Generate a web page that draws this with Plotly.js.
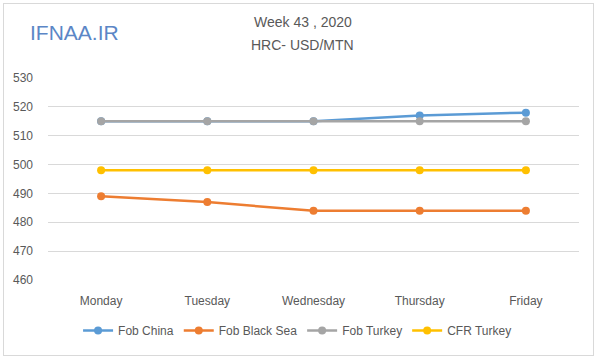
<!DOCTYPE html>
<html>
<head>
<meta charset="utf-8">
<script src="https://cdn.plot.ly/plotly-3.0.1.min.js"></script>
<style>
html,body{margin:0;padding:0;background:#fff;}
#wrap{position:relative;width:600px;height:360px;}
#chart{width:600px;height:360px;}
#frame{position:absolute;left:3px;top:3px;width:589px;height:351px;border:1px solid #d9d9d9;pointer-events:none;}
</style>
</head>
<body>
<div id="wrap"><div id="chart"></div><div id="frame"></div></div>
<script>
var days = ["Monday","Tuesday","Wednesday","Thursday","Friday"];
var fobChina = [515, 515, 515, 517, 518];
var fobBlackSea = [489, 487, 484, 484, 484];
var fobTurkey = [515, 515, 515, 515, 515];
var cfrTurkey = [498, 498, 498, 498, 498];
var seriesNames = ["Fob China","Fob Black Sea","Fob Turkey","CFR Turkey"];
var seriesColors = ["#5B9BD5","#ED7D31","#A5A5A5","#FFC000"];
var seriesValues = [fobChina, fobBlackSea, fobTurkey, cfrTurkey];
var yTicks = [460,470,480,490,500,510,520,530];

var traces = seriesValues.map(function(v,i){
  return {x: days, y: v, name: seriesNames[i], type:'scatter', mode:'lines+markers',
    line:{color:seriesColors[i], width:2.5}, marker:{color:seriesColors[i], size:8}};
});
var font = "Liberation Sans, Arial, sans-serif";
var layout = {
  width:600, height:360,
  margin:{l:48, r:21, t:78, b:80},
  paper_bgcolor:'#fff', plot_bgcolor:'#fff',
  font:{family:font, size:12, color:'#595959'},
  showlegend:true,
  legend:{orientation:'h', x:0.47, xanchor:'center', y:-0.25, yanchor:'middle',
    font:{size:12, color:'#595959'}, traceorder:'normal'},
  xaxis:{type:'category', range:[-0.5,4.5], showgrid:false, zeroline:false, showline:false,
    ticks:'', ticklabelstandoff:12, tickfont:{size:12,color:'#595959'}, fixedrange:true},
  yaxis:{range:[460,530], tickvals:yTicks, showgrid:true, gridcolor:'#d9d9d9', gridwidth:1,
    zeroline:false, showline:false, ticks:'', ticklabelstandoff:14,
    tickfont:{size:12,color:'#595959'}, fixedrange:true},
  annotations:[
    {text:'Week 43 , 2020', xref:'paper', yref:'paper', x:0.48, y:1.277, xanchor:'center', yanchor:'middle',
      showarrow:false, font:{family:font, size:14, color:'#595959'}},
    {text:'HRC- USD/MTN', xref:'paper', yref:'paper', x:0.48, y:1.163, xanchor:'center', yanchor:'middle',
      showarrow:false, font:{family:font, size:14, color:'#595959'}},
    {text:'IFNAA.IR', xref:'paper', yref:'paper', x:-0.038, y:1.223, xanchor:'left', yanchor:'middle',
      showarrow:false, font:{family:font, size:21, color:'#5B86C6'}}
  ]
};
Plotly.newPlot('chart', traces, layout, {staticPlot:true, displayModeBar:false});
</script>
</body>
</html>
